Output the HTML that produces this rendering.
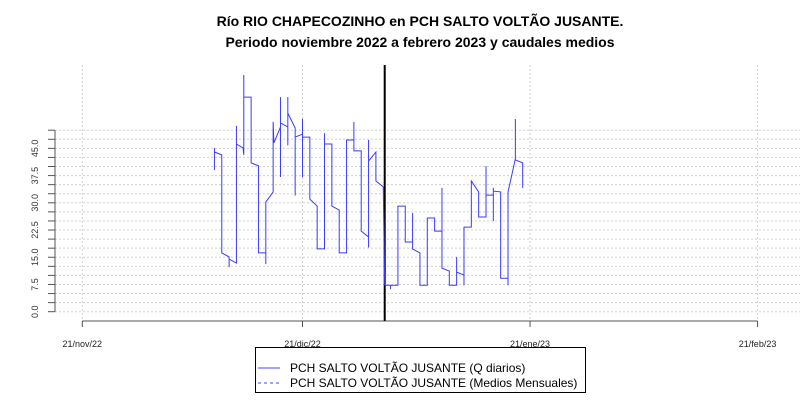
<!DOCTYPE html>
<html><head><meta charset="utf-8"><style>
body{margin:0;background:#fff;}
svg{display:block;font-family:"Liberation Sans",sans-serif;}
</style></head><body>
<svg id="chart" width="800" height="400">
<text x="420" y="26" text-anchor="middle" font-size="14" font-weight="bold">Río RIO CHAPECOZINHO en PCH SALTO VOLTÃO JUSANTE.</text>
<text x="420" y="47" text-anchor="middle" font-size="14" font-weight="bold">Periodo noviembre 2022 a febrero 2023 y caudales medios</text>
<g id="grid"></g><g id="axes"></g><g id="series"></g>
<g>
<rect x="255.5" y="347.5" width="330" height="45" fill="#fff" stroke="#000"/>
<line x1="258" y1="368" x2="280" y2="368" stroke="#4444ff"/>
<text x="290" y="372" font-size="12">PCH SALTO VOLTÃO JUSANTE (Q diarios)</text>
<line x1="258" y1="383" x2="280" y2="383" stroke="#4444ff" stroke-dasharray="3,3"/>
<text x="290" y="387" font-size="12">PCH SALTO VOLTÃO JUSANTE (Medios Mensuales)</text>
</g>
</svg>
<script>
const xTickLabels=["21/nov/22","21/dic/22","21/ene/23","21/feb/23"];
const xTickDays=[0,30,61,92];
const yTicks=[0,2.5,5,7.5,10,12.5,15,17.5,20,22.5,25,27.5,30,32.5,35,37.5,40,42.5,45,47.5,50];
const yLabels=["0.0","7.5","15.0","22.5","30.0","37.5","45.0"];
const markerDay=41.2;
const days=[18,18,18,19,19,20,20,20,21,21,21,21.9,22,22,22,23,23,24,24,25,25,25,26,26,26.1,27,27,27,27,28,28,28,28,29,29,29,30,30,30,30,31,31,32,32,33,33,33,34,34,35,35,36,36,37,37,37,38,38,39,39,39,39,40,40,41,41.2,42,42,42,43,43,44,44,45,45,45,46,46,47,47,48,48,49,49,49,50,50,51,51,51,52,52,52,53,53,54,54,55,55,55,56,56,56,56,57,57,58,58,58,59,59,59,60,60];
const flows=[39,45.1,44,43.2,16.2,15.1,12.3,14.5,13.4,51.2,46.2,45.1,43.2,65.2,59.1,59.1,41,40.2,16.2,16.2,13.1,30.2,33,52.3,46.5,50.9,59.1,37.1,52,50.9,59.1,45.8,54.7,50.6,32,48.1,48.9,53.1,37.1,48.1,48.1,31,29.1,17.3,17.3,49.2,46.2,46.2,29.1,28,16.2,16.2,47.3,47.3,52.3,44.3,44.3,22.2,20.6,47.3,17.7,41.5,44,36,34.4,7.3,7.3,6.2,7.3,7.3,29.1,29.1,19.2,19.2,27.2,17.3,16.2,7.3,7.3,25.8,25.8,22.2,22.2,34.1,12,11.2,7.3,7.3,15.1,10.9,10.1,7.3,23.3,23.3,36,33,26.1,26.1,40.1,32.1,32.1,34.1,25,33.2,33,9.2,9.2,7.3,33,42.1,53.1,41.8,41,34.1];
const NS="http://www.w3.org/2000/svg";
const X=d=>82.3+d*7.34, Y=v=>311.7-v*3.63;
function mk(tag,attrs,parent){const e=document.createElementNS(NS,tag);for(const k in attrs)e.setAttribute(k,attrs[k]);parent.appendChild(e);return e;}
const grid=document.getElementById('grid'),axes=document.getElementById('axes'),series=document.getElementById('series');
yTicks.forEach(v=>{
 const g=mk('line',{x1:55,x2:800,y1:Y(v),y2:Y(v),stroke:'#d0d0d0','stroke-dasharray':'2,2'},grid);
 
 
 const t=mk('line',{x1:48,x2:55,y1:Y(v),y2:Y(v),stroke:'#555'},axes);
 
 
});
const ya=mk('line',{x1:55,x2:55,y1:Y(0),y2:Y(50),stroke:'#555'},axes);


yLabels.forEach(s=>{
 const v=parseFloat(s);
 const t=mk('text',{x:0,y:0,'font-size':9,'text-anchor':'middle',fill:'#333',transform:`translate(38,${Y(v)}) rotate(-90)`},axes);
 t.textContent=s;
 
 
});
xTickDays.forEach((d,i)=>{
 const g=mk('line',{x1:X(d),x2:X(d),y1:65,y2:321,stroke:'#d0d0d0','stroke-dasharray':'2,2'},grid);
 
 
 const t=mk('line',{x1:X(d),x2:X(d),y1:321,y2:327,stroke:'#555'},axes);
 
 
 const l=mk('text',{x:X(d),y:347,'font-size':9,'text-anchor':'middle',fill:'#222'},axes);
 l.textContent=xTickLabels[i];
 
 
});
const xa=mk('line',{x1:X(0),x2:X(92),y1:321,y2:321,stroke:'#555'},axes);


const m=mk('line',{x1:X(markerDay),x2:X(markerDay),y1:65,y2:321,stroke:'#000','stroke-width':2},series);


const p=mk('polyline',{points:days.map((d,i)=>X(d)+','+Y(flows[i])).join(' '),fill:'none',stroke:'#3a3aff','stroke-width':1},series);


</script>
</body></html>
